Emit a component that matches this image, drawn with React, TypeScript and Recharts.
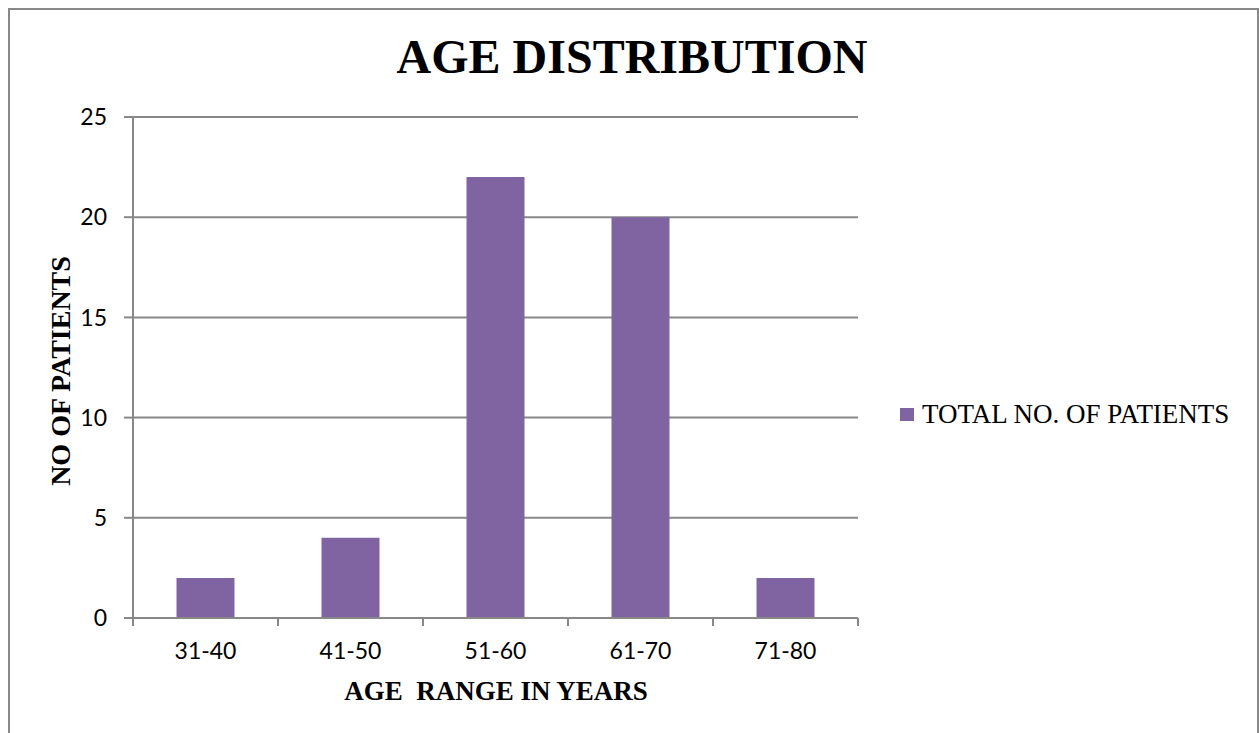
import React from "react";
import { Bar, BarChart, CartesianGrid, Legend, XAxis, YAxis } from "recharts";

const AGE_RANGES = ["31-40", "41-50", "51-60", "61-70", "71-80"];
const PATIENTS = [2, 4, 22, 20, 2];
const Y_TICKS = [0, 5, 10, 15, 20, 25];

const SERIES_NAME = "TOTAL NO. OF PATIENTS";
const BAR_COLOR = "#8064a2";
const LINE_COLOR = "#888888";
const SERIF = '"Liberation Serif", "Times New Roman", serif';
const SANS = 'Lato, "Open Sans", sans-serif';

const WIDTH = 1259;
const HEIGHT = 733;
const MARGIN = { top: 117, right: 401, bottom: 55, left: 73 };
const Y_AXIS_W = 60;
const X_AXIS_H = 60;
// width of one category band, for the tick marks between the bars
const BAND = (WIDTH - MARGIN.left - MARGIN.right - Y_AXIS_W) / AGE_RANGES.length;

const chartData = AGE_RANGES.map((range, i) => ({
  range,
  patients: PATIENTS[i],
}));

function CategoryTick(props: any) {
  const { x, y, payload, index } = props;
  const last = index === AGE_RANGES.length - 1;
  return (
    <g>
      <line
        x1={x - BAND / 2}
        x2={x - BAND / 2}
        y1={y}
        y2={y + 8}
        stroke={LINE_COLOR}
        strokeWidth={2}
      />
      {last && (
        <line
          x1={x + BAND / 2}
          x2={x + BAND / 2}
          y1={y}
          y2={y + 8}
          stroke={LINE_COLOR}
          strokeWidth={2}
        />
      )}
      <text
        x={x}
        y={y + 25}
        dy="0.71em"
        textAnchor="middle"
        fontFamily={SANS}
        fontSize={23}
        fill="#000"
      >
        {payload.value}
      </text>
    </g>
  );
}

function LegendBox() {
  return (
    <div style={{ display: "flex", alignItems: "flex-start" }}>
      <div
        style={{
          width: 14,
          height: 13,
          marginTop: 7,
          background: BAR_COLOR,
        }}
      />
      <span
        style={{
          marginLeft: 8,
          fontFamily: SERIF,
          fontSize: 27,
          lineHeight: "26px",
          color: "#000",
          whiteSpace: "nowrap",
        }}
      >
        {SERIES_NAME}
      </span>
    </div>
  );
}

export default function App() {
  return (
    <div
      style={{
        position: "absolute",
        left: 0,
        top: 0,
        width: WIDTH,
        height: HEIGHT,
        overflow: "hidden",
        background: "#fff",
      }}
    >
      <div
        style={{
          position: "absolute",
          left: 8,
          top: 8,
          width: 1247,
          height: 725,
          border: `2px solid ${LINE_COLOR}`,
          borderBottom: "none",
        }}
      />
      <div style={{ position: "absolute", left: 0, top: 0 }}>
        <BarChart
          width={WIDTH}
          height={HEIGHT}
          data={chartData}
          margin={MARGIN}
          barCategoryGap="30%"
        >
          <CartesianGrid
            horizontal
            vertical={false}
            stroke={LINE_COLOR}
            strokeWidth={2}
          />
          <XAxis
            dataKey="range"
            height={X_AXIS_H}
            axisLine={{ stroke: LINE_COLOR, strokeWidth: 2 }}
            tickLine={false}
            tickSize={0}
            tickMargin={0}
            interval={0}
            tick={<CategoryTick />}
          />
          <YAxis
            width={Y_AXIS_W}
            domain={[0, 25]}
            ticks={Y_TICKS}
            axisLine={{ stroke: LINE_COLOR, strokeWidth: 2 }}
            tickLine={{ stroke: LINE_COLOR, strokeWidth: 2 }}
            tickSize={9}
            tickMargin={17}
            tick={{ fontFamily: SANS, fontSize: 23, fill: "#000" }}
          />
          <Legend
            layout="vertical"
            align="center"
            verticalAlign="middle"
            wrapperStyle={{ left: 900, top: 401, width: "auto", height: "auto" }}
            content={() => <LegendBox />}
          />
          <Bar
            dataKey="patients"
            name={SERIES_NAME}
            fill={BAR_COLOR}
            legendType="square"
            isAnimationActive={false}
          />
        </BarChart>
      </div>
      <svg
        width={WIDTH}
        height={HEIGHT}
        style={{ position: "absolute", left: 0, top: 0, pointerEvents: "none" }}
      >
        <text
          x={632}
          y={73}
          textAnchor="middle"
          fontFamily={SERIF}
          fontWeight="bold"
          fontSize={48}
          fill="#000"
        >
          AGE DISTRIBUTION
        </text>
        <text
          x={496}
          y={700}
          textAnchor="middle"
          fontFamily={SERIF}
          fontWeight="bold"
          fontSize={27}
          fill="#000"
          style={{ whiteSpace: "pre" }}
        >
          {"AGE  RANGE IN YEARS"}
        </text>
        <text
          x={70}
          y={371}
          textAnchor="middle"
          transform="rotate(-90 70 371)"
          fontFamily={SERIF}
          fontWeight="bold"
          fontSize={28}
          fill="#000"
        >
          NO OF PATIENTS
        </text>
      </svg>
    </div>
  );
}
